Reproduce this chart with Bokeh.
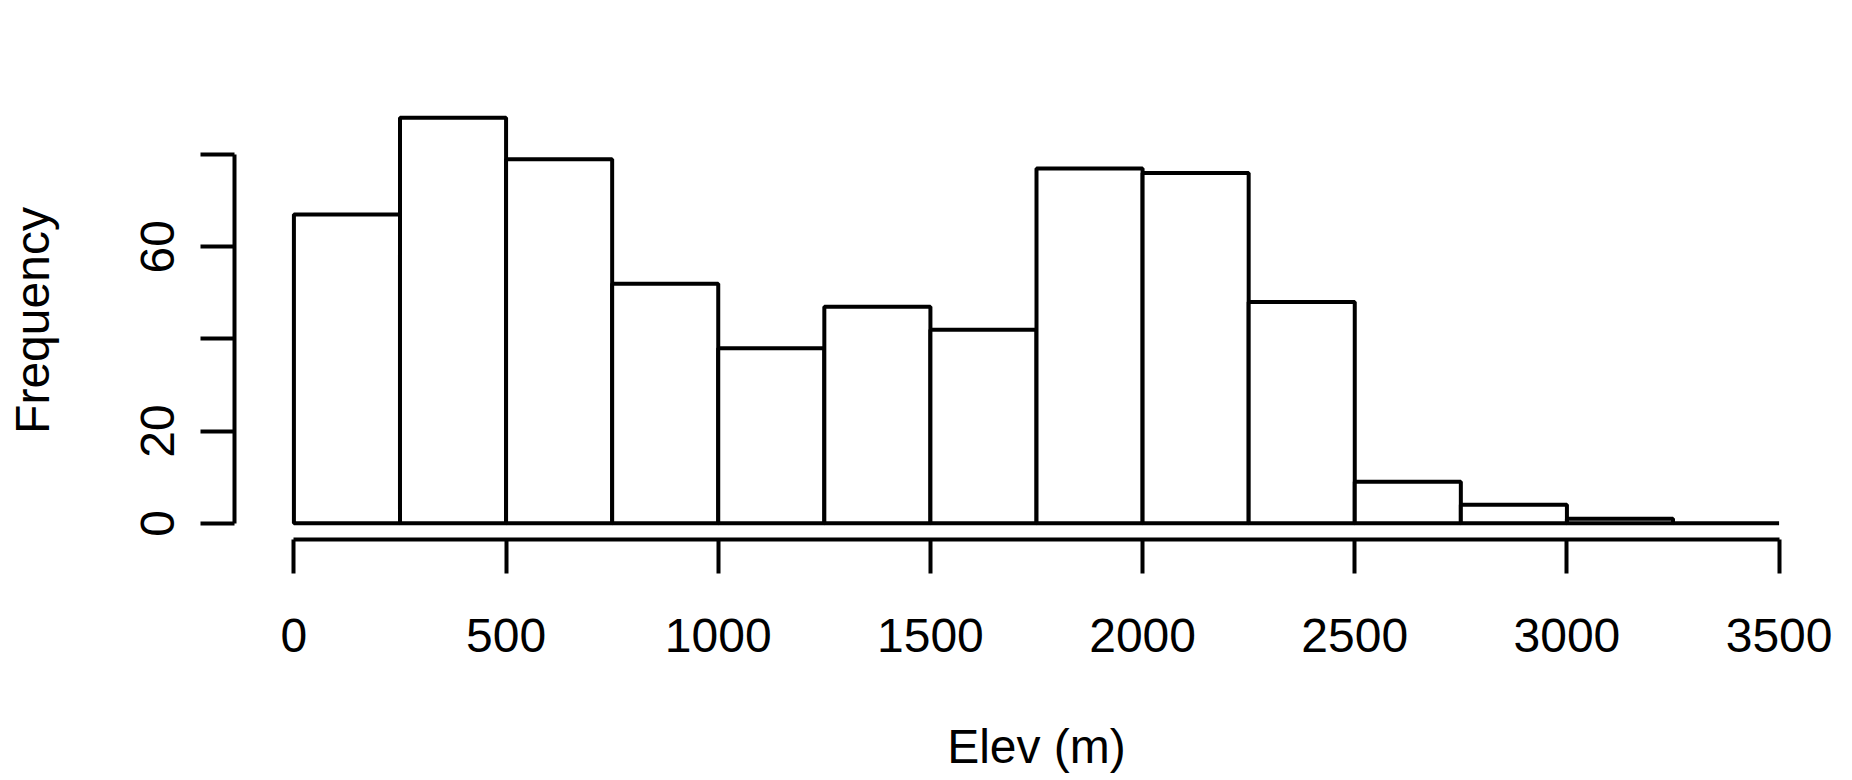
from bokeh.plotting import figure
from bokeh.models import Range1d, FixedTicker
from bokeh.embed import file_html
from bokeh.resources import INLINE

# Histogram data (Elevation in metres, bins of 250 m)
bin_edges = [0, 250, 500, 750, 1000, 1250, 1500, 1750, 2000, 2250, 2500, 2750, 3000, 3250, 3500]
counts = [67, 88, 79, 52, 38, 47, 42, 77, 76, 48, 9, 4, 1, 0]
x_ticks = [0, 500, 1000, 1500, 2000, 2500, 3000, 3500]
y_ticks = [0, 20, 40, 60, 80]
y_hidden_labels = [40, 80]   # labels dropped in the original (overlap)
x_label = "Elev (m)"
y_label = "Frequency"

FONT = "Liberation Sans"
LW = 4

p = figure(width=1852, height=780, output_backend="svg", toolbar_location=None,
           x_range=Range1d(-140, 3640), y_range=Range1d(-3.52, 91.52),
           min_border_left=234, min_border_right=14, min_border_top=101,
           min_border_bottom=241, background_fill_color="white",
           border_fill_color="white")
p.outline_line_color = None
p.grid.visible = False

p.quad(left=bin_edges[:-1], right=bin_edges[1:], bottom=0, top=counts,
       fill_color="white", line_color="black", line_width=LW)

for ax, ticks, bounds in ((p.xaxis[0], x_ticks, (x_ticks[0], x_ticks[-1])),
                          (p.yaxis[0], y_ticks, (y_ticks[0], y_ticks[-1]))):
    ax.ticker = FixedTicker(ticks=ticks)
    ax.bounds = bounds
    ax.axis_line_width = LW
    ax.axis_line_color = "black"
    ax.major_tick_line_width = LW
    ax.major_tick_line_color = "black"
    ax.major_tick_out = 34
    ax.major_tick_in = 0
    ax.minor_tick_line_color = None
    ax.major_label_text_font = FONT
    ax.major_label_text_font_size = "48px"
    ax.major_label_text_color = "black"
    ax.axis_label_text_font = FONT
    ax.axis_label_text_font_size = "48px"
    ax.axis_label_text_font_style = "normal"
    ax.axis_label_text_color = "black"

p.xaxis.axis_label = x_label
p.yaxis.axis_label = y_label
p.xaxis.major_label_standoff = 45
p.xaxis.axis_label_standoff = 65
p.yaxis.major_label_orientation = "vertical"
p.yaxis.major_label_overrides = {v: "" for v in y_hidden_labels}
p.yaxis.major_label_standoff = 26
p.yaxis.axis_label_standoff = 80

open("out.html", "w").write(file_html(p, INLINE))
